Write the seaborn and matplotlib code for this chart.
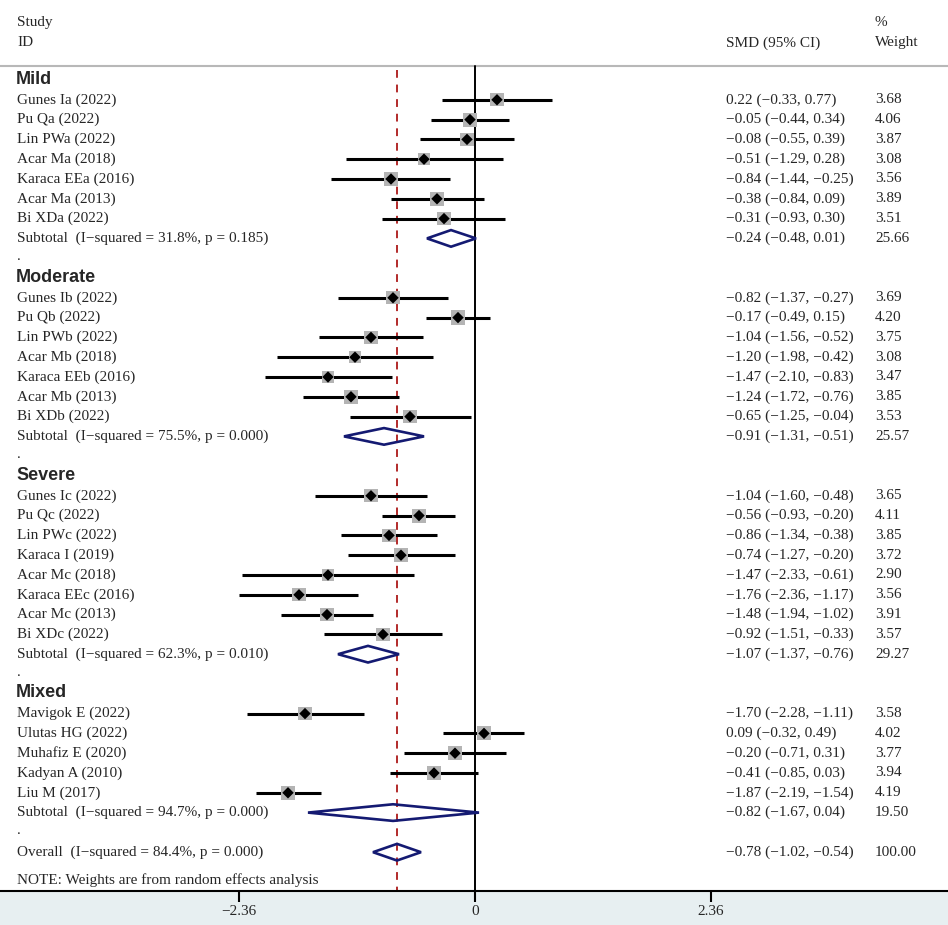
import numpy as np
import pandas as pd
import matplotlib.pyplot as plt
import seaborn as sns
from matplotlib.patches import Polygon

# ---- data ----
groups = ["Mild", "Moderate", "Severe", "Mixed"]
group_sizes = [7, 7, 8, 5]

study_names = [
    "Gunes Ia (2022)", "Pu Qa (2022)", "Lin PWa (2022)", "Acar Ma (2018)",
    "Karaca EEa (2016)", "Acar Ma (2013)", "Bi XDa (2022)",
    "Gunes Ib (2022)", "Pu Qb (2022)", "Lin PWb (2022)", "Acar Mb (2018)",
    "Karaca EEb (2016)", "Acar Mb (2013)", "Bi XDb (2022)",
    "Gunes Ic (2022)", "Pu Qc (2022)", "Lin PWc (2022)", "Karaca I (2019)",
    "Acar Mc (2018)", "Karaca EEc (2016)", "Acar Mc (2013)", "Bi XDc (2022)",
    "Mavigok E (2022)", "Ulutas HG (2022)", "Muhafiz E (2020)",
    "Kadyan A (2010)", "Liu M (2017)",
]
study_es = [0.22, -0.05, -0.08, -0.51, -0.84, -0.38, -0.31,
            -0.82, -0.17, -1.04, -1.20, -1.47, -1.24, -0.65,
            -1.04, -0.56, -0.86, -0.74, -1.47, -1.76, -1.48, -0.92,
            -1.70, 0.09, -0.20, -0.41, -1.87]
study_lo = [-0.33, -0.44, -0.55, -1.29, -1.44, -0.84, -0.93,
            -1.37, -0.49, -1.56, -1.98, -2.10, -1.72, -1.25,
            -1.60, -0.93, -1.34, -1.27, -2.33, -2.36, -1.94, -1.51,
            -2.28, -0.32, -0.71, -0.85, -2.19]
study_hi = [0.77, 0.34, 0.39, 0.28, -0.25, 0.09, 0.30,
            -0.27, 0.15, -0.52, -0.42, -0.83, -0.76, -0.04,
            -0.48, -0.20, -0.38, -0.20, -0.61, -1.17, -1.02, -0.33,
            -1.11, 0.49, 0.31, 0.03, -1.54]
study_wt = [3.68, 4.06, 3.87, 3.08, 3.56, 3.89, 3.51,
            3.69, 4.20, 3.75, 3.08, 3.47, 3.85, 3.53,
            3.65, 4.11, 3.85, 3.72, 2.90, 3.56, 3.91, 3.57,
            3.58, 4.02, 3.77, 3.94, 4.19]

sub_i2 = ["31.8%", "75.5%", "62.3%", "94.7%"]
sub_p = ["0.185", "0.000", "0.010", "0.000"]
sub_es = [-0.24, -0.91, -1.07, -0.82]
sub_lo = [-0.48, -1.31, -1.37, -1.67]
sub_hi = [0.01, -0.51, -0.76, 0.04]
sub_wt = [25.66, 25.57, 29.27, 19.50]

overall_i2, overall_p = "84.4%", "0.000"
overall_es, overall_lo, overall_hi, overall_wt = -0.78, -1.02, -0.54, 100.00

tick_vals = [-2.36, 0, 2.36]
tick_labels = ["\u22122.36", "0", "2.36"]

# ---- style ----
sns.set_theme(style="white")
plt.rcParams["font.family"] = ["Liberation Serif", "DejaVu Serif"]

SERIF = 11
NAVY = "#141a72"
GREY_BOX = "#b4b4b4"
RED = "#b22a2a"


def fmt(v):
    return f"{v:.2f}".replace("-", "\u2212")


def ci_text(e, lo, hi):
    return f"{fmt(e)} ({fmt(lo)}, {fmt(hi)})"


# ---- row layout ----
rows = []
header_rows, sub_rows, dot_rows = [], [], []
r = 0
for g, n in enumerate(group_sizes):
    header_rows.append(r)
    r += 1
    for _ in range(n):
        rows.append(r)
        r += 1
    sub_rows.append(r)
    r += 1
    dot_rows.append(r)
    r += 1
overall_row = r
note_row = r + 1.4

df = pd.DataFrame({
    "name": study_names, "es": study_es, "lo": study_lo,
    "hi": study_hi, "wt": study_wt, "row": rows,
})

fig = plt.figure(figsize=(9.48, 9.25), dpi=100, facecolor="#e7eff1")
ax = fig.add_axes([0, 34 / 925, 1, 891 / 925])
ax.set_facecolor("white")

ax.set_xlim(-4.75, 4.73)
ax.set_ylim(40.96, -4.04)

# reference lines
ax.plot([0, 0], [-0.71, 40.96], color="black", lw=1.4, zorder=2)
ax.plot([overall_es, overall_es], [-0.5, 40.96], color=RED, lw=1.4,
        dashes=(4, 3.5), zorder=2)
ax.plot([-4.75, 4.73], [-0.71, -0.71], color="#b8b8b8", lw=1.5, zorder=1)

# confidence intervals
ax.hlines(df["row"], df["lo"], df["hi"], color="black", lw=2.2, zorder=3)

# weight boxes and point estimates
sns.scatterplot(data=df, x="es", y="row", size="wt",
                sizes=(min(study_wt) * 25, max(study_wt) * 25),
                marker="s", color=GREY_BOX, edgecolor="none",
                legend=False, ax=ax, zorder=4)
sns.scatterplot(data=df, x="es", y="row", marker="D", color="black",
                s=34, edgecolor="none", legend=False, ax=ax, zorder=5)

# pooled diamonds
h = 0.42
diam = list(zip(sub_es, sub_lo, sub_hi, sub_rows))
diam.append((overall_es, overall_lo, overall_hi, overall_row))
for e, lo, hi, y in diam:
    ax.add_patch(Polygon([(lo, y), (e, y - h), (hi, y), (e, y + h)],
                         closed=True, fill=False, edgecolor=NAVY,
                         lw=1.9, zorder=6))

# ---- text columns ----
x_name = -4.58
x_ci = 2.51
x_wt = 4.00

ax.text(x_name, -2.88, "Study", fontsize=SERIF, va="center")
ax.text(x_name, -1.88, "ID", fontsize=SERIF, va="center")
ax.text(x_ci, -1.88, "SMD (95% CI)", fontsize=SERIF, va="center")
ax.text(x_wt, -2.88, "%", fontsize=SERIF, va="center")
ax.text(x_wt, -1.88, "Weight", fontsize=SERIF, va="center")

for g, y in zip(groups, header_rows):
    ax.text(x_name - 0.01, y - 0.05, g, fontsize=13, fontweight="bold",
            family=["Liberation Sans", "DejaVu Sans"], va="center")

for _, s in df.iterrows():
    ax.text(x_name, s["row"], s["name"], fontsize=SERIF, va="center")
    ax.text(x_ci, s["row"], ci_text(s["es"], s["lo"], s["hi"]),
            fontsize=SERIF, va="center")
    ax.text(x_wt, s["row"], f"{s['wt']:.2f}", fontsize=SERIF, va="center")

for i, y in enumerate(sub_rows):
    ax.text(x_name, y, f"Subtotal  (I\u2212squared = {sub_i2[i]}, p = {sub_p[i]})",
            fontsize=SERIF, va="center")
    ax.text(x_ci, y, ci_text(sub_es[i], sub_lo[i], sub_hi[i]),
            fontsize=SERIF, va="center")
    ax.text(x_wt, y, f"{sub_wt[i]:.2f}", fontsize=SERIF, va="center")

for y in dot_rows:
    ax.text(x_name, y - 0.1, ".", fontsize=SERIF, va="center")

ax.text(x_name, overall_row, f"Overall  (I\u2212squared = {overall_i2}, p = {overall_p})",
        fontsize=SERIF, va="center")
ax.text(x_ci, overall_row, ci_text(overall_es, overall_lo, overall_hi),
        fontsize=SERIF, va="center")
ax.text(x_wt, overall_row, f"{overall_wt:.2f}", fontsize=SERIF, va="center")
ax.text(x_name, note_row, "NOTE: Weights are from random effects analysis",
        fontsize=SERIF, va="center")

# ---- axis ----
for side in ["top", "left", "right"]:
    ax.spines[side].set_visible(False)
ax.spines["bottom"].set_color("black")
ax.spines["bottom"].set_linewidth(1.5)
ax.set_yticks([])
ax.set_xticks(tick_vals)
ax.set_xticklabels(tick_labels)
ax.tick_params(axis="x", direction="out", length=8, width=1.5,
               color="black", pad=2, labelsize=SERIF, bottom=True)
ax.set_xlabel("")
ax.set_ylabel("")

fig.savefig("out.png", dpi=100, facecolor=fig.get_facecolor())
